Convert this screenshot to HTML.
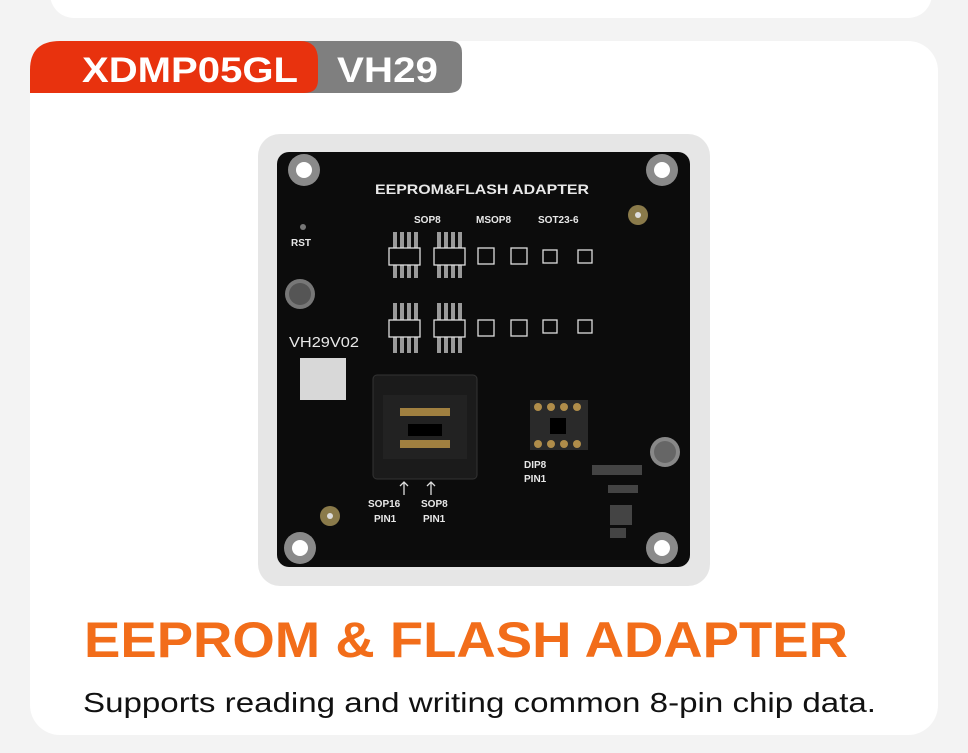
<!DOCTYPE html>
<html><head><meta charset="utf-8"><style>
html,body{margin:0;padding:0;background:#f4f4f4;}
body{width:968px;height:753px;overflow:hidden;position:relative;font-family:"Liberation Sans",sans-serif;}
</style></head><body>
<svg width="968" height="753" viewBox="0 0 968 753" xmlns="http://www.w3.org/2000/svg" style="position:absolute;left:0;top:0">
<rect x="0" y="0" width="968" height="753" fill="#f3f3f3"/>
<!-- top card remnant -->
<rect x="50" y="-40" width="882" height="58" rx="24" fill="#ffffff"/>
<!-- main card -->
<rect x="30" y="41" width="908" height="694" rx="30" fill="#ffffff"/>
<!-- tabs -->
<path d="M300 41 H450 Q462 41 462 53 V80 Q462 93 449 93 H300 Z" fill="#7f7f7f"/>
<path d="M60 41 H300 Q318 41 318 60 V80 Q318 93 304 93 H30 V70 Q30 41 60 41 Z" fill="#e8320e"/>
<text x="82" y="82" font-size="35" font-weight="bold" fill="#fff" textLength="216" lengthAdjust="spacingAndGlyphs">XDMP05GL</text>
<text x="337" y="82" font-size="35" font-weight="bold" fill="#fff" textLength="101" lengthAdjust="spacingAndGlyphs">VH29</text>
<!-- board frame -->
<rect x="258" y="134" width="452" height="452" rx="22" fill="#e6e6e6"/>
<rect x="277" y="152" width="413" height="415" rx="12" fill="#0c0c0c"/>
<!-- holes -->
<g fill="#8a8a8a"><circle cx="304" cy="170" r="16"/><circle cx="662" cy="170" r="16"/><circle cx="300" cy="548" r="16"/><circle cx="662" cy="548" r="16"/></g>
<g fill="#fff"><circle cx="304" cy="170" r="8"/><circle cx="662" cy="170" r="8"/><circle cx="300" cy="548" r="8"/><circle cx="662" cy="548" r="8"/></g>
<circle cx="300" cy="294" r="15" fill="#777"/><circle cx="300" cy="294" r="11" fill="#555"/>
<circle cx="665" cy="452" r="15" fill="#888"/><circle cx="665" cy="452" r="11" fill="#666"/>
<circle cx="638" cy="215" r="10" fill="#8a7a4a"/><circle cx="638" cy="215" r="3" fill="#ddd"/>
<circle cx="330" cy="516" r="10" fill="#8a7a4a"/><circle cx="330" cy="516" r="3" fill="#ddd"/>
<circle cx="303" cy="227" r="3" fill="#777"/>
<g fill="#e8e8e8" font-weight="bold">
<text x="375" y="194" font-size="14" textLength="214" lengthAdjust="spacingAndGlyphs">EEPROM&amp;FLASH ADAPTER</text>
<text x="414" y="223" font-size="10">SOP8</text>
<text x="476" y="223" font-size="10">MSOP8</text>
<text x="538" y="223" font-size="10">SOT23-6</text>
<text x="291" y="246" font-size="10">RST</text>
<text x="289" y="347" font-size="15" font-weight="normal" textLength="70" lengthAdjust="spacingAndGlyphs">VH29V02</text>
<text x="524" y="468" font-size="10">DIP8</text>
<text x="524" y="482" font-size="10">PIN1</text>
<text x="368" y="507" font-size="10">SOP16</text>
<text x="421" y="507" font-size="10">SOP8</text>
<text x="374" y="522" font-size="10">PIN1</text>
<text x="423" y="522" font-size="10">PIN1</text>
</g>
<g stroke="#ddd" stroke-width="1.3" fill="none">
<path d="M404 495 V482 M400 486 L404 482 L408 486"/><path d="M431 495 V482 M427 486 L431 482 L435 486"/>
</g>
<rect x="300" y="358" width="46" height="42" fill="#d8d8d8"/>
<!-- SOP8 footprints -->
<g fill="#9a9a9a">
<rect x="393" y="232" width="4" height="46"/><rect x="400" y="232" width="4" height="46"/><rect x="407" y="232" width="4" height="46"/><rect x="414" y="232" width="4" height="46"/>
<rect x="437" y="232" width="4" height="46"/><rect x="444" y="232" width="4" height="46"/><rect x="451" y="232" width="4" height="46"/><rect x="458" y="232" width="4" height="46"/>
<rect x="393" y="303" width="4" height="50"/><rect x="400" y="303" width="4" height="50"/><rect x="407" y="303" width="4" height="50"/><rect x="414" y="303" width="4" height="50"/>
<rect x="437" y="303" width="4" height="50"/><rect x="444" y="303" width="4" height="50"/><rect x="451" y="303" width="4" height="50"/><rect x="458" y="303" width="4" height="50"/>
</g>
<g fill="#0c0c0c" stroke="#ddd" stroke-width="1.3">
<rect x="389" y="248" width="31" height="17"/><rect x="434" y="248" width="31" height="17"/>
<rect x="389" y="320" width="31" height="17"/><rect x="434" y="320" width="31" height="17"/>
<rect x="478" y="248" width="16" height="16"/><rect x="511" y="248" width="16" height="16"/>
<rect x="478" y="320" width="16" height="16"/><rect x="511" y="320" width="16" height="16"/>
<rect x="543" y="250" width="14" height="13"/><rect x="578" y="250" width="14" height="13"/>
<rect x="543" y="320" width="14" height="13"/><rect x="578" y="320" width="14" height="13"/>
</g>
<!-- socket -->
<rect x="373" y="375" width="104" height="104" rx="4" fill="#1b1b1b" stroke="#333"/>
<rect x="383" y="395" width="84" height="64" fill="#222"/>
<g fill="#a08040"><rect x="400" y="408" width="50" height="8"/><rect x="400" y="440" width="50" height="8"/></g>
<rect x="408" y="424" width="34" height="12" fill="#000"/>
<!-- DIP8 -->
<rect x="530" y="400" width="58" height="50" fill="#2a2a2a"/>
<g fill="#b08d4a"><circle cx="538" cy="407" r="4"/><circle cx="551" cy="407" r="4"/><circle cx="564" cy="407" r="4"/><circle cx="577" cy="407" r="4"/>
<circle cx="538" cy="444" r="4"/><circle cx="551" cy="444" r="4"/><circle cx="564" cy="444" r="4"/><circle cx="577" cy="444" r="4"/></g>
<rect x="550" y="418" width="16" height="16" fill="#000"/>
<!-- small components -->
<g fill="#444"><rect x="592" y="465" width="50" height="10"/><rect x="608" y="485" width="30" height="8"/><rect x="610" y="505" width="22" height="20"/><rect x="610" y="528" width="16" height="10"/></g>
<!-- title texts -->
<text x="84" y="657" font-size="50" font-weight="bold" fill="#f26d1a" textLength="764" lengthAdjust="spacingAndGlyphs">EEPROM &amp; FLASH ADAPTER</text>
<text x="83" y="712" font-size="28" fill="#111" textLength="793" lengthAdjust="spacingAndGlyphs">Supports reading and writing common 8-pin chip data.</text>
</svg>
</body></html>
